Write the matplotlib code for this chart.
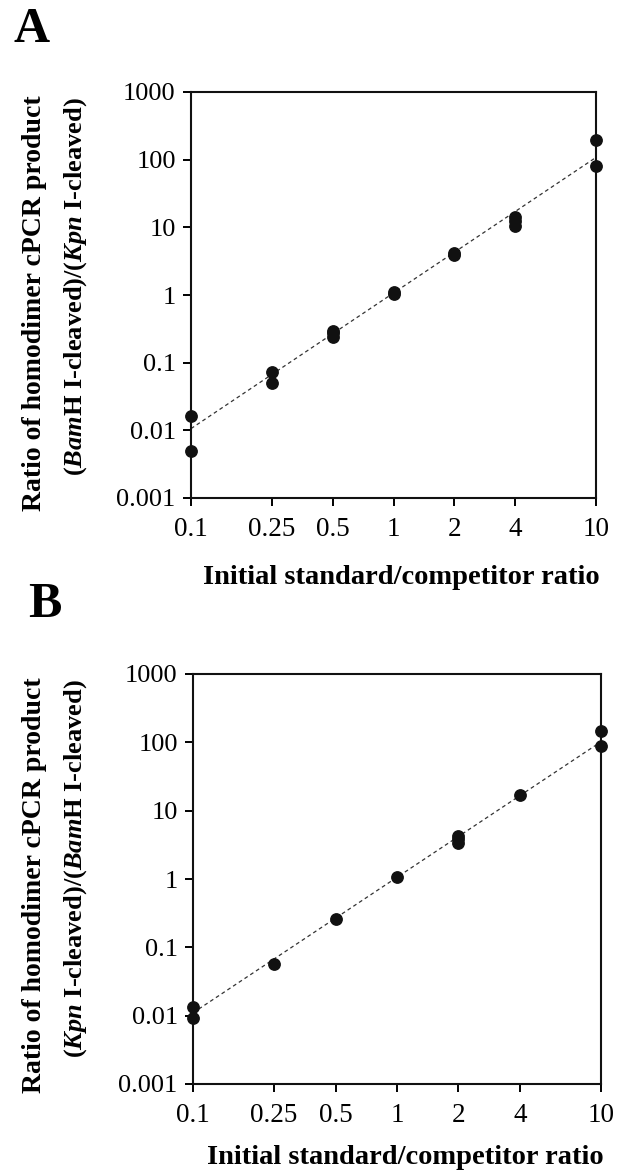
import matplotlib
matplotlib.use("Agg")
import matplotlib.pyplot as plt

plt.rcParams['font.family'] = ['Liberation Serif', 'DejaVu Serif']
plt.rcParams['mathtext.fontset'] = 'custom'
plt.rcParams['mathtext.rm'] = 'Liberation Serif:bold'
plt.rcParams['mathtext.it'] = 'Liberation Serif:italic:bold'
plt.rcParams['mathtext.bf'] = 'Liberation Serif:bold'

# ---- data ----
x_ticks = [0.1, 0.25, 0.5, 1, 2, 4, 10]
x_ticklabels = ["0.1", "0.25", "0.5", "1", "2", "4", "10"]
y_ticks = [0.001, 0.01, 0.1, 1, 10, 100, 1000]
y_ticklabels = ["0.001", "0.01", "0.1", "1", "10", "100", "1000"]

xa = [0.1, 0.1, 0.25, 0.25, 0.5, 0.5, 0.5, 1, 1, 2, 2, 4, 4, 4, 10, 10]
ya = [0.0162, 0.0049, 0.074, 0.050, 0.29, 0.27, 0.243, 1.12, 1.02,
      4.2, 3.9, 14.4, 12.6, 10.5, 196, 80]
fit_xa = [0.1, 10]
fit_ya = [0.0106, 108]

xb = [0.1, 0.1, 0.25, 0.5, 1, 2, 2, 2, 4, 10, 10]
yb = [0.0135, 0.0094, 0.0564, 0.261, 1.08, 4.3, 3.8, 3.4, 16.9, 146, 89]
fit_xb = [0.1, 10]
fit_yb = [0.011, 102]

xlabel = "Initial standard/competitor ratio"
ylabel1 = "Ratio of homodimer cPCR product"
ylabel2_a = "($\\mathit{Bam}$H I-cleaved)/($\\mathit{Kpn}$ I-cleaved)"
ylabel2_b = "($\\mathit{Kpn}$ I-cleaved)/($\\mathit{Bam}$H I-cleaved)"

W, H = 619, 1175
fig = plt.figure(figsize=(W / 100, H / 100), dpi=100)


def px(x, y):
    return x / W, 1 - y / H


def panel(rect_px, xs, ys, fx, fy, yl2, letter, letter_pos, xlab_y):
    l, t, r, b = rect_px
    ax = fig.add_axes([l / W, 1 - b / H, (r - l) / W, (b - t) / H])
    ax.set_xscale('log')
    ax.set_yscale('log')
    ax.plot(fx, fy, ls=(0, (3, 2.5)), color='#333333', lw=0.9, zorder=2)
    ax.plot(xs, ys, 'o', color='#111111', ms=8.2, mec='#111111',
            clip_on=False, zorder=3)
    ax.set_xlim(0.1, 10)
    ax.set_ylim(0.001, 1000)
    ax.set_xticks(x_ticks)
    ax.set_xticklabels(x_ticklabels)
    ax.set_yticks(y_ticks)
    ax.set_yticklabels(y_ticklabels)
    ax.minorticks_off()
    ax.tick_params(axis='x', direction='out', length=6, width=1.4,
                   labelsize=19.5, pad=8)
    ax.tick_params(axis='y', direction='out', length=6, width=1.4,
                   labelsize=19, pad=5)
    for s in ax.spines.values():
        s.set_linewidth(1.5)
        s.set_color('#111111')
    fig.text(*px(*letter_pos), letter, fontsize=36, fontweight='bold',
             ha='left', va='top')
    fig.text(*px((l + r) / 2 + 8, xlab_y), xlabel, fontsize=20.5,
             fontweight='bold', ha='center', va='center')
    fig.text(*px(35, t + 3), ylabel1, fontsize=20, fontweight='bold',
             rotation=90, ha='center', va='top')
    fig.text(*px(76, t + 5), yl2, fontsize=19, fontweight='bold',
             rotation=90, ha='center', va='top')
    return ax


panel((191, 92, 596, 498), xa, ya, fit_xa, fit_ya, ylabel2_a, "A",
      (14, 7), 578)
panel((193, 674, 601, 1084), xb, yb, fit_xb, fit_yb, ylabel2_b, "B",
      (28, 582), 1157)

fig.savefig("out.png", dpi=100)
